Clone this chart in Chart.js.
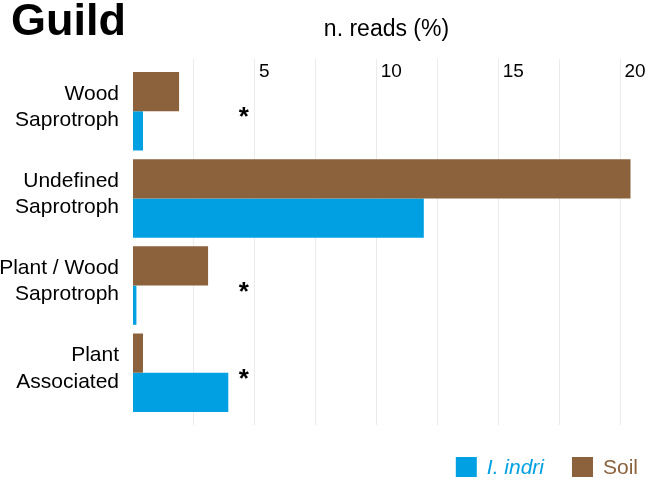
<!DOCTYPE html>
<html>
<head>
<meta charset="utf-8">
<script src="https://cdn.jsdelivr.net/npm/chart.js@4"></script>
<style>
body{margin:0;background:#fff;}
</style>
</head>
<body>
<canvas id="guildChart" width="649" height="480"></canvas>
<script>

// DATA

const categories = [
["Wood","Saprotroph"],
["Undefined","Saprotroph"],
["Plant / Wood","Saprotroph"],
["Plant","Associated"]
];

const soil = [1.89, 20.41, 3.08, 0.41];

const indri = [0.41, 11.93, 0.14, 3.91];

const significant = [true, false, true, true];

const xGrid = [2.5, 5, 7.5, 10, 12.5, 15, 17.5, 20];

const xTickLabels = [5, 10, 15, 20];

const starValue = 4.55;

const brown = "#8c623c";
const blue = "#00a0e2";
const font = "Liberation Sans";


// TITLE, STARS AND LEGEND (drawn on canvas)

const extras = {

id:"extras",

afterDatasetsDraw(chart){

const ctx = chart.ctx;
const xs = chart.scales.x;
const ys = chart.scales.y;

ctx.save();
ctx.fillStyle = "#000";
ctx.font = "bold 26px '" + font + "'";
ctx.textAlign = "center";
ctx.textBaseline = "alphabetic";

significant.forEach((s,i) => {
if(!s) return;
ctx.fillText("*", xs.getPixelForValue(starValue), ys.getPixelForValue(i) + 14);
});

ctx.restore();

},

afterDraw(chart){

const ctx = chart.ctx;

ctx.save();

// title
ctx.fillStyle = "#000";
ctx.font = "bold 45px '" + font + "'";
ctx.textAlign = "left";
ctx.textBaseline = "alphabetic";
ctx.fillText("Guild", 11, 35);

// legend, right aligned
const items = [
{text:"I. indri", color:blue, style:"italic "},
{text:"Soil", color:brown, style:""}
];

ctx.textBaseline = "middle";
let x = 638;
const y = 467;

for(let i = items.length - 1; i >= 0; i--){
const it = items[i];
ctx.font = it.style + "21px '" + font + "'";
const w = ctx.measureText(it.text).width;
x -= w;
ctx.fillStyle = it.color;
ctx.fillText(it.text, x, y + 1);
x -= 10;
x -= 21;
ctx.fillRect(x, y - 10, 21, 20);
x -= 28;
}

ctx.restore();

}

};


// BAR CHART

new Chart(

document.getElementById("guildChart"),

{

type:"bar",

data:{

datasets:[

{
label:"Soil",
data:soil.map((v,i) => ({x:v, y:i})),
backgroundColor:brown
},

{
label:"I. indri",
data:indri.map((v,i) => ({x:v, y:i})),
backgroundColor:blue
}

]

},

options:{

indexAxis:"y",
responsive:false,
animation:false,
devicePixelRatio:1,
categoryPercentage:0.9,
barPercentage:1,

layout:{padding:{left:0, right:9, top:0, bottom:55}},

plugins:{
legend:{display:false},
tooltip:{enabled:false}
},

scales:{

x:{
type:"linear",
position:"top",
min:0,
max:20.8,
afterBuildTicks: s => {
s.ticks = xGrid.map(v => ({value:v}));
},
afterFit: s => { s.height = 59; },
grid:{color:"#ebebeb", lineWidth:1, drawTicks:false},
border:{display:false},
ticks:{
mirror:true,
align:"start",
padding:1,
labelOffset:4,
autoSkip:false,
maxRotation:0,
color:"#000",
font:{family:font, size:19},
callback: v => xTickLabels.includes(v) ? v : ""
},
title:{
display:true,
text:"n. reads (%)",
color:"#000",
font:{family:font, size:23},
padding:{top:16, bottom:0}
}
},

y:{
type:"linear",
offset:false,
min:-0.6,
max:3.6,
reverse:true,
afterBuildTicks: s => {
s.ticks = categories.map((c,i) => ({value:i}));
},
afterFit: s => { s.width = 133; },
grid:{display:false, drawTicks:false, offset:false},
border:{display:false},
ticks:{
padding:14,
labelOffset:-4,
autoSkip:false,
color:"#000",
font:{family:font, size:21, lineHeight:1.24},
callback: v => categories[v]
}
}

}

},

plugins:[extras]

});

</script>
</body>
</html>
